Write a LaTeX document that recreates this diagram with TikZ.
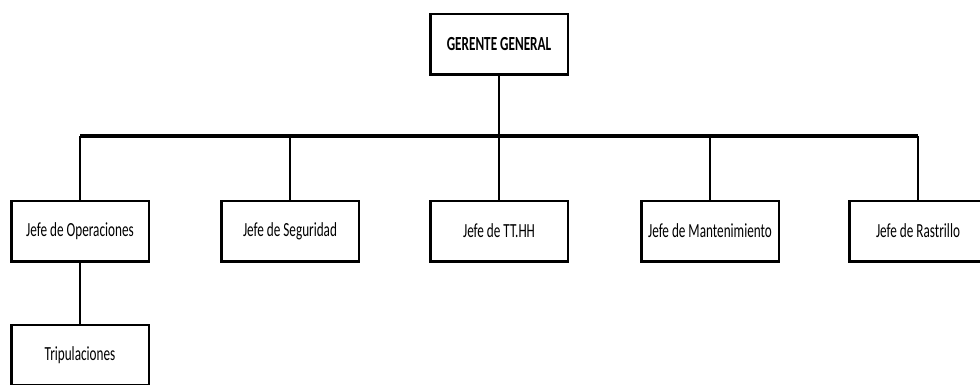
\documentclass[tikz,border=0pt]{standalone}
\usepackage{fontspec}
\setmainfont{Carlito}[FakeStretch=0.66]
\begin{document}
\begin{tikzpicture}[x=1pt, y=-1pt,
    caja/.style={draw, line width=2.5pt, minimum width=137.5pt, minimum height=60.5pt,
      inner sep=0pt, font=\fontsize{20}{22}\selectfont},
    rama/.style={line width=2.5pt}]
    \useasboundingbox (0,0) rectangle (980,385) ;
    \clip (0,0) rectangle (980,385) ;
    % cajas
    \node[caja, font=\fontsize{20}{22}\selectfont\bfseries] (gg) at (499,44.5) {GERENTE GENERAL} ;
    \node[caja] (ops) at (80,231) {Jefe de Operaciones} ;
    \node[caja] (seg) at (290,231) {Jefe de Seguridad} ;
    \node[caja] (tth) at (499,231) {Jefe de TT.HH} ;
    \node[caja] (man) at (710,231) {Jefe de Mantenimiento} ;
    \node[caja] (ras) at (918,231) {Jefe de Rastrillo} ;
    \node[caja] (tri) at (80,355) {Tripulaciones} ;
    % lineas
    \coordinate (bus) at (500,136.5) ;
    \draw[rama] (gg.south) -- (gg.south |- bus) ;
    \draw[line width=4pt] (ops.north |- bus) -- (ras.north |- bus) ;
    \foreach \n in {ops, seg, tth, man, ras}
      \draw[rama] (\n.north) -- (\n.north |- bus) ;
    \draw[rama] (ops.south) -- (tri.north) ;
\end{tikzpicture}
\end{document}
